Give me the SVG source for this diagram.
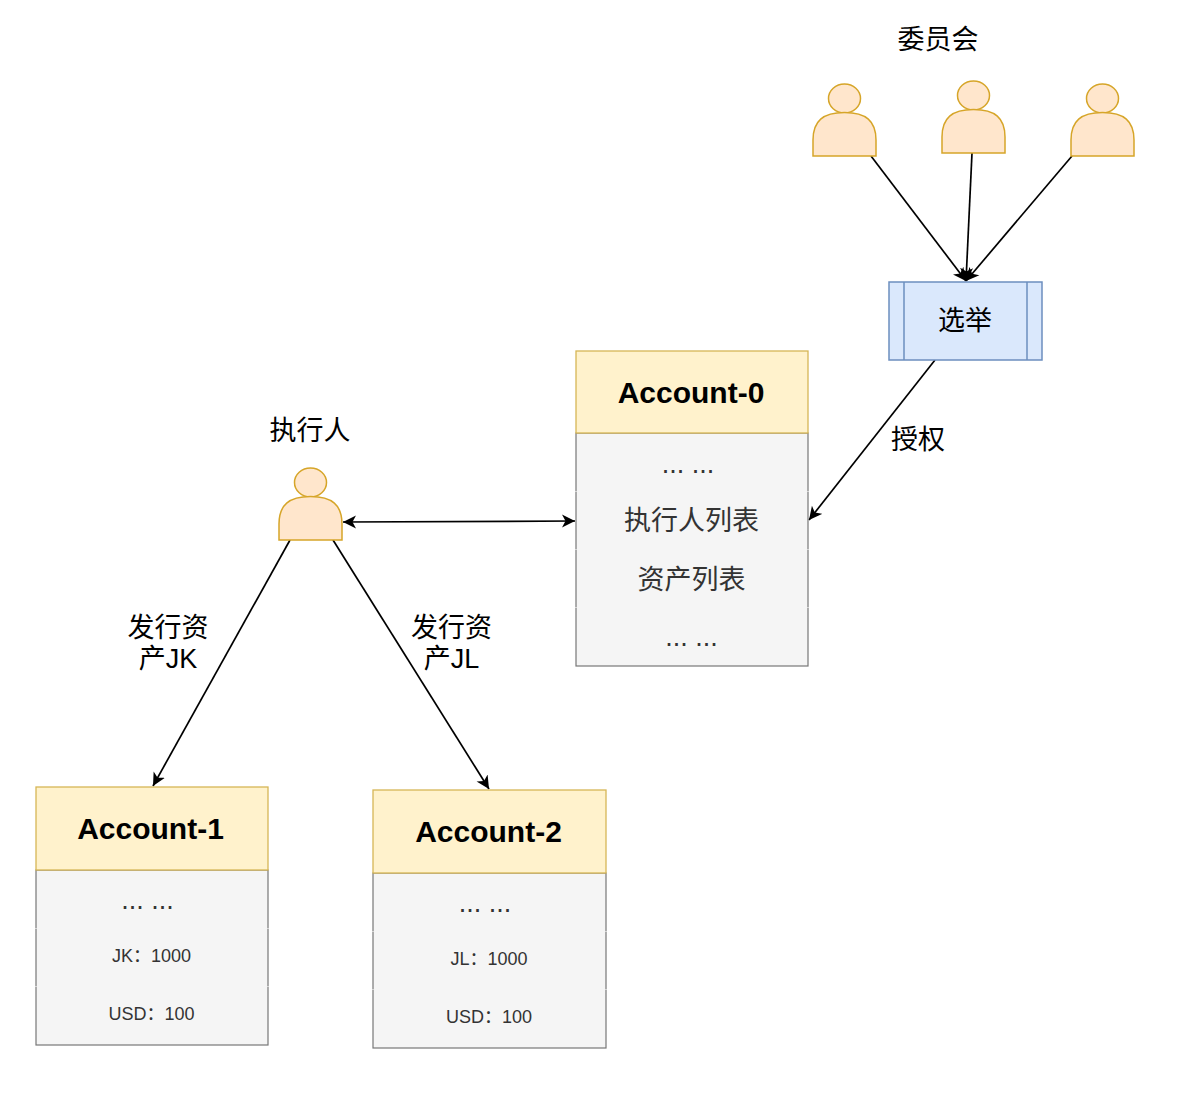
<svg xmlns="http://www.w3.org/2000/svg" width="1177" height="1095" viewBox="0 0 1177 1095">
<style>
text{font-family:"Liberation Sans","Noto Sans CJK SC",sans-serif;text-anchor:middle}
.l{font-size:27px;fill:#000}
.b{font-size:27px;fill:#333}
.s{font-size:18px;fill:#333}
.t{font-size:30px;font-weight:bold;fill:#000}
.head{fill:#fff2cc;stroke:#d6b656;stroke-width:1.3}
.body{fill:#f5f5f5;stroke:#777;stroke-width:1.2}
.sep{stroke:#f5f5f5;stroke-width:1.2;stroke-opacity:.6}
.p{fill:#ffe6cc;stroke:#d6a528;stroke-width:1.5}
.c{fill:none;stroke:#000;stroke-width:1.7}
</style>
<defs>
<g id="person">
<ellipse class="p" cx="31.500" cy="14.500" rx="16" ry="14.500"/>
<path class="p" d="M0 72V56C0 37 10 28.500 31.500 28.500C53 28.500 63 37 63 56V72Z"/>
</g>
<marker id="arr" viewBox="0 0 14 14" refX="13" refY="7" markerWidth="14" markerHeight="14" markerUnits="userSpaceOnUse" orient="auto-start-reverse">
<path d="M0 0.500L13 7L0 13.500L3.500 7Z" fill="#000"/>
</marker>
</defs>
<g id="connectors">
<path class="c" marker-end="url(#arr)" d="M871 156L966 281"/>
<path class="c" marker-end="url(#arr)" d="M972 153L966 281"/>
<path class="c" marker-end="url(#arr)" d="M1072 156L966 281"/>
<path class="c" marker-end="url(#arr)" d="M935 360L809 520"/>
<path class="c" marker-start="url(#arr)" marker-end="url(#arr)" d="M343 522L575 521"/>
<path class="c" marker-end="url(#arr)" d="M290 540L153 786"/>
<path class="c" marker-end="url(#arr)" d="M333 540L489 789"/>
</g>
<g id="person-1"><use href="#person" x="813" y="84"/></g>
<g id="person-2"><use href="#person" x="942" y="81"/></g>
<g id="person-3"><use href="#person" x="1071" y="84"/></g>
<g id="committee-label"><text class="l" x="938" y="49">委员会</text></g>
<g id="election">
<rect x="889" y="282" width="153" height="78" fill="#dae8fc" stroke="#6c8ebf" stroke-width="1.5"/>
<path d="M904 282V360M1027 282V360" fill="none" stroke="#6c8ebf" stroke-width="1.5"/>
<text class="l" x="965" y="330">选举</text>
</g>
<g id="auth-label"><text class="l" x="918" y="449">授权</text></g>
<g id="executor">
<use href="#person" x="279" y="468"/>
<text class="l" x="310" y="440">执行人</text>
</g>
<g id="issue-jk-label"><text class="l" x="168" y="637">发行资</text><text class="l" x="168" y="668">产JK</text></g>
<g id="issue-jl-label"><text class="l" x="451.500" y="637">发行资</text><text class="l" x="451.500" y="668">产JL</text></g>
<g id="account-0">
<rect class="body" x="576" y="433" width="232" height="233"/>
<path class="sep" d="M575 491.500h2M807 491.500h2M575 549.500h2M807 549.500h2M575 607.500h2M807 607.500h2"/>
<rect class="head" x="576" y="351" width="232" height="82"/>
<text class="t" x="691" y="403">Account-0</text>
<text class="b" x="688" y="473">... ...</text>
<text class="b" x="691.500" y="530">执行人列表</text>
<text class="b" x="691.500" y="589">资产列表</text>
<text class="b" x="691.500" y="646">... ...</text>
</g>
<g id="account-1">
<rect class="body" x="36" y="870" width="232" height="175"/>
<path class="sep" d="M35 928.500h2M267 928.500h2M35 986.500h2M267 986.500h2"/>
<rect class="head" x="36" y="787" width="232" height="83"/>
<text class="t" x="150.500" y="839">Account-1</text>
<text class="b" x="147.500" y="909">... ...</text>
<text class="s" x="151.500" y="962">JK：1000</text>
<text class="s" x="151.500" y="1020">USD：100</text>
</g>
<g id="account-2">
<rect class="body" x="373" y="873" width="233" height="175"/>
<path class="sep" d="M372 931.500h2M605 931.500h2M372 989.500h2M605 989.500h2"/>
<rect class="head" x="373" y="790" width="233" height="83"/>
<text class="t" x="488.500" y="842">Account-2</text>
<text class="b" x="485" y="912">... ...</text>
<text class="s" x="489" y="965">JL：1000</text>
<text class="s" x="489" y="1023">USD：100</text>
</g>
</svg>
